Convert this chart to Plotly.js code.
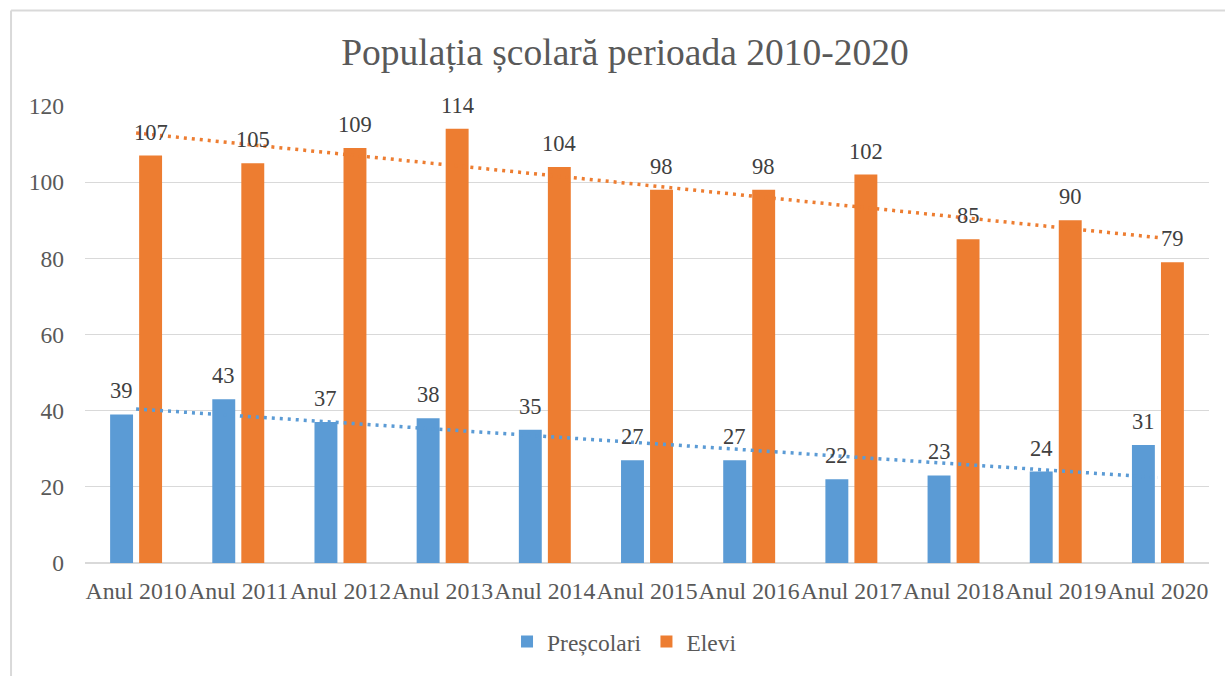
<!DOCTYPE html>
<html>
<head>
<meta charset="utf-8">
<script src="https://cdn.plot.ly/plotly-3.0.1.min.js"></script>
<style>html,body{margin:0;padding:0;background:#fff;}#chart{width:1225px;height:676px;}</style>
</head>
<body>
<div id="chart"></div>
<script>
const categories = ["Anul 2010","Anul 2011","Anul 2012","Anul 2013","Anul 2014","Anul 2015","Anul 2016","Anul 2017","Anul 2018","Anul 2019","Anul 2020"];
const prescolari = [39, 43, 37, 38, 35, 27, 27, 22, 23, 24, 31];
const elevi = [107, 105, 109, 114, 104, 98, 98, 102, 85, 90, 79];
const seriesNames = ["Preșcolari", "Elevi"];
const colors = ["#5B9BD5", "#ED7D31"];

const xIdx = categories.map((_, i) => i);

function linearTrend(ys) {
  const n = ys.length;
  const mx = xIdx.reduce((a, b) => a + b, 0) / n;
  const my = ys.reduce((a, b) => a + b, 0) / n;
  let sxy = 0, sxx = 0;
  for (let i = 0; i < n; i++) { sxy += (i - mx) * (ys[i] - my); sxx += (i - mx) * (i - mx); }
  const slope = sxy / sxx, icpt = my - slope * mx;
  return xIdx.map(x => icpt + slope * x);
}

const fam = "Liberation Serif";
const series = [prescolari, elevi];

const traces = [];
series.forEach((vals, k) => {
  traces.push({
    type: "bar", x: xIdx, y: vals, name: seriesNames[k],
    marker: {color: colors[k]}, hoverinfo: "skip"
  });
});
series.forEach((vals, k) => {
  traces.push({
    type: "scatter", mode: "lines", x: xIdx, y: linearTrend(vals),
    line: {color: colors[k], width: 3.5, dash: "3px,5px"},
    showlegend: false, hoverinfo: "skip"
  });
});

const annotations = [];
series.forEach((vals, k) => {
  vals.forEach((v, i) => {
    annotations.push({
      x: xIdx[i], y: v, xref: "x", yref: "y", text: String(v), showarrow: false,
      xanchor: "center", yanchor: "bottom", xshift: k === 0 ? -14.5 : 14.5, yshift: 9,
      font: {family: fam, size: 22.5, color: "#404040"}
    });
  });
});

const layout = {
  width: 1225, height: 676,
  font: {family: fam},
  margin: {l: 85, r: 16, t: 106, b: 110, pad: 0},
  paper_bgcolor: "#fff", plot_bgcolor: "#fff",
  title: {text: "Populația școlară perioada 2010-2020", font: {family: fam, size: 37.5, color: "#595959"},
          x: 625/1225, xref: "container", xanchor: "center", y: 1 - 52/676, yref: "container", yanchor: "middle"},
  barmode: "group", bargap: 0.432, bargroupgap: 0.21,
  xaxis: {range: [-0.5, 10.5], tickmode: "array", tickvals: xIdx, ticktext: categories,
          showgrid: false, zeroline: false, showline: false, ticks: "", tickangle: 0,
          ticklabelstandoff: 11,
          tickfont: {family: fam, size: 23.8, color: "#595959"}, fixedrange: true},
  yaxis: {range: [0, 120], dtick: 20, tick0: 0, showgrid: true, gridcolor: "#D9D9D9", gridwidth: 1.3,
          zeroline: true, zerolinecolor: "#D9D9D9", zerolinewidth: 1.3, showline: false, ticks: "",
          ticklabelstandoff: 20,
          tickfont: {family: fam, size: 23.5, color: "#595959"}, fixedrange: true},
  showlegend: true,
  legend: {orientation: "h", x: 0.48, xanchor: "center", y: -0.172, yanchor: "middle",
           font: {family: fam, size: 23.5, color: "#595959"}, bgcolor: "rgba(0,0,0,0)"},
  annotations: annotations,
  shapes: [
    {type: "line", xref: "paper", yref: "paper", x0: -0.0658, x1: -0.0658, y0: -0.3, y1: 1.2087, line: {color: "#D9D9D9", width: 2}},
    {type: "line", xref: "paper", yref: "paper", x0: -0.0658, x1: 1.02, y0: 1.2087, y1: 1.2087, line: {color: "#D9D9D9", width: 2}}
  ]
};

Plotly.newPlot("chart", traces, layout, {displayModeBar: false, staticPlot: true});
</script>
</body>
</html>
